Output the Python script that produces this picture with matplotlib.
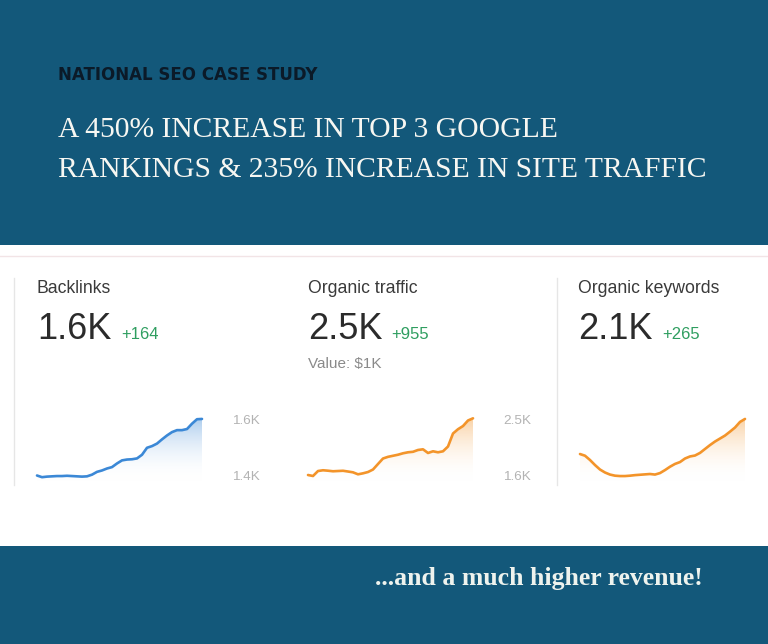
import numpy as np
import matplotlib.pyplot as plt
from matplotlib.colors import LinearSegmentedColormap

# data
backlinks = [1400, 1394, 1396, 1397, 1398, 1398, 1399, 1398, 1397, 1396, 1397,
             1403, 1413, 1418, 1425, 1430, 1443, 1454, 1457, 1458, 1461, 1474,
             1499, 1505, 1514, 1529, 1543, 1555, 1562, 1562, 1566, 1585, 1601, 1602]
traffic = [1608, 1592, 1672, 1684, 1677, 1668, 1672, 1676, 1664, 1651, 1619,
           1635, 1656, 1696, 1785, 1873, 1900, 1917, 1934, 1957, 1973, 1981,
           2010, 2021, 1962, 1989, 1973, 1989, 2066, 2275, 2344, 2395, 2484, 2519]
keywords = [1915, 1906, 1883, 1856, 1832, 1816, 1805, 1799, 1797, 1797, 1799,
            1802, 1804, 1806, 1808, 1805, 1813, 1829, 1847, 1862, 1872, 1891,
            1902, 1907, 1921, 1942, 1963, 1982, 1998, 2014, 2035, 2057, 2087, 2103]

titles = ['Backlinks', 'Organic traffic', 'Organic keywords']
totals = ['1.6K', '2.5K', '2.1K']
changes = ['+164', '+955', '+265']
tick_vals = [(1400, 1600), (1600, 2500), (1800, 2100)]
tick_labels = [('1.4K', '1.6K'), ('1.6K', '2.5K'), None]
series = [backlinks, traffic, keywords]

BLUE_BG = '#13587a'
W, H = 768, 644

fig = plt.figure(figsize=(7.68, 6.44), dpi=100)
fig.patch.set_facecolor('white')

# background axes in pixel coords
bg = fig.add_axes([0, 0, 1, 1])
bg.set_xlim(0, W)
bg.set_ylim(H, 0)
bg.axis('off')
bg.add_patch(plt.Rectangle((-10, -10), W + 20, 255, color=BLUE_BG, lw=0, clip_on=False))
bg.add_patch(plt.Rectangle((-10, 546), W + 20, H - 536, color=BLUE_BG, lw=0, clip_on=False))
bg.plot([0, W], [255.5, 255.5], color='#f2e4e6', lw=1)
for sx in [14, 556.5]:
    bg.plot([sx, sx], [278, 485], color='#e6e6e6', lw=1)

bg.text(58, 80, 'NATIONAL SEO CASE STUDY', fontsize=12, fontweight='bold',
        family='DejaVu Sans', color='#0b1a28', va='baseline')
bg.text(58, 137, 'A 450% INCREASE IN TOP 3 GOOGLE', fontsize=21.3,
        family='Liberation Serif', color='#f7f7f2', va='baseline')
bg.text(58, 177, 'RANKINGS & 235% INCREASE IN SITE TRAFFIC', fontsize=21.3,
        family='Liberation Serif', color='#f7f7f2', va='baseline')
bg.text(375, 585, '...and a much higher revenue!', fontsize=18.5, fontweight='bold',
        family='Liberation Serif', color='#eef3ee', va='baseline')

# card texts
card_x = [37, 308, 578]
change_x = [121, 391, 662]
for i in range(3):
    bg.text(card_x[i], 293, titles[i], fontsize=12.7, family='Liberation Sans',
            color='#3a3a3a', va='baseline')
    bg.text(card_x[i], 339, totals[i], fontsize=26, family='Liberation Sans',
            color='#2b2b2b', va='baseline')
    bg.text(change_x[i], 339, changes[i], fontsize=12, family='Liberation Sans',
            color='#2f9e60', va='baseline')
bg.text(308, 368, 'Value: $1K', fontsize=11, family='Liberation Sans',
        color='#8a8a8a', va='baseline')

# sparklines
line_colors = ['#3b88d6', '#f3942a', '#f3942a']
chart_left = [37, 308, 580]
chart_w = 165
top_px, bot_px = 412, 482
tick_top, tick_bot = 419.5, 475.5

for i in range(3):
    vals = np.array(series[i], dtype=float)
    x = np.arange(len(vals))
    lo, hi = tick_vals[i]
    s = (hi - lo) / (tick_bot - tick_top)
    ymin = lo - (bot_px - tick_bot) * s
    ymax = hi + (tick_top - top_px) * s

    ax = fig.add_axes([chart_left[i] / W, 1 - bot_px / H, chart_w / W, (bot_px - top_px) / H])
    ax.set_xlim(0, len(vals) - 1)
    ax.set_ylim(ymin, ymax)
    ax.patch.set_alpha(0)
    for sp in ax.spines.values():
        sp.set_visible(False)
    ax.set_xticks([])

    # gradient fill under the line
    c = line_colors[i]
    cmap = LinearSegmentedColormap.from_list('g', [(1, 1, 1, 0), c])
    grad = np.linspace(0, 1, 100).reshape(-1, 1)
    poly = ax.fill_between(x, vals, ymin, color='none', lw=0)
    im = ax.imshow(grad, extent=[0, len(vals) - 1, ymin, vals.max()], origin='lower',
                   aspect='auto', cmap=cmap, alpha=0.42, zorder=1)
    im.set_clip_path(poly.get_paths()[0], transform=ax.transData)
    ax.plot(x, vals, color=c, lw=1.9, zorder=3, solid_capstyle='round',
            solid_joinstyle='round', clip_on=False)

    ax.yaxis.tick_right()
    if tick_labels[i] is not None:
        ax.set_yticks([lo, hi])
        ax.set_yticklabels(tick_labels[i])
        ax.tick_params(axis='y', length=0, pad=21.5, labelsize=9.7, labelcolor='#b3b3b3')
        for t in ax.get_yticklabels():
            t.set_family('Liberation Sans')
    else:
        ax.set_yticks([])

fig.savefig('out.png', dpi=100)
